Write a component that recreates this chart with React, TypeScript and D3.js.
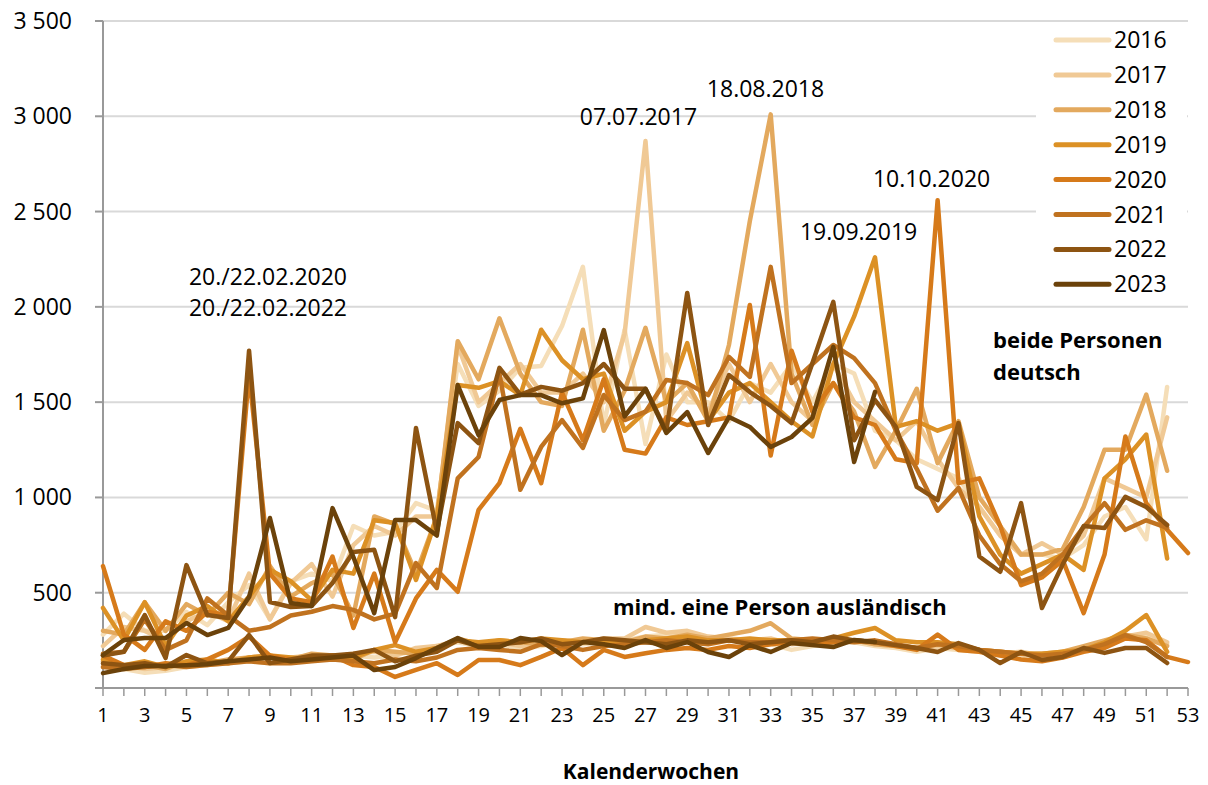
import React, { useEffect, useRef } from "react";
import * as d3 from "d3";

// Eheschließungen je Kalenderwoche
const years = ["2016", "2017", "2018", "2019", "2020", "2021", "2022", "2023"];
const yearColors = ["#F5DEB8", "#F0C995", "#E3A95E", "#DC9125", "#D67A1A", "#C0721F", "#8D5412", "#6B420A"];

// beide Personen deutsch
const german2016 = [280, 390, 300, 300, 400, 330, 450, 540, 360, 560, 600, 560, 850, 800, 820, 970, 930, 1700, 1480, 1560, 1680, 1690, 1900, 2210, 1380, 1880, 1280, 1750, 1500, 1500, 1400, 1600, 1550, 1700, 1500, 1700, 1650, 1350, 1300, 1200, 1150, 1100, 950, 800, 700, 700, 680, 750, 900, 950, 780, 1580];
const german2017 = [220, 320, 300, 250, 350, 400, 350, 600, 360, 550, 650, 480, 750, 850, 800, 900, 900, 1800, 1500, 1600, 1700, 1550, 1550, 1650, 1500, 1860, 2870, 1400, 1550, 1450, 1700, 1500, 1700, 1500, 1400, 1700, 1500, 1400, 1300, 1400, 1200, 1050, 950, 800, 700, 760, 700, 800, 1100, 1050, 1000, 1420];
const german2018 = [300, 280, 450, 300, 440, 380, 500, 440, 640, 480, 550, 600, 380, 900, 860, 600, 900, 1820, 1620, 1940, 1650, 1500, 1480, 1880, 1350, 1560, 1890, 1500, 1600, 1400, 1800, 2450, 3010, 1650, 1380, 1600, 1450, 1160, 1350, 1570, 1180, 1400, 1000, 850, 700, 700, 730, 950, 1250, 1250, 1540, 1140];
const german2019 = [420, 250, 450, 220, 380, 430, 350, 480, 620, 560, 460, 620, 600, 880, 866, 567, 900, 1590, 1575, 1610, 1537, 1880, 1720, 1620, 1650, 1350, 1450, 1500, 1810, 1400, 1550, 1600, 1500, 1400, 1320, 1700, 1950, 2260, 1370, 1400, 1350, 1390, 900, 700, 600, 650, 700, 620, 1100, 1200, 1330, 680];
const german2020 = [640, 280, 200, 350, 300, 400, 380, 1650, 600, 470, 450, 690, 315, 600, 240, 470, 620, 505, 935, 1075, 1360, 1075, 1550, 1300, 1620, 1250, 1230, 1420, 1380, 1400, 1420, 2010, 1220, 1770, 1450, 1600, 1420, 1380, 1200, 1180, 2560, 1075, 1100, 850, 540, 580, 670, 393, 700, 1320, 970, 830, 708];
const german2021 = [180, 190, 360, 200, 250, 470, 380, 300, 320, 380, 400, 430, 410, 360, 390, 655, 525, 1100, 1212, 1650, 1040, 1265, 1406, 1260, 1537, 1406, 1450, 1616, 1600, 1537, 1737, 1632, 2210, 1600, 1700, 1800, 1731, 1600, 1350, 1150, 930, 1050, 800, 650, 560, 600, 700, 845, 970, 830, 880, 840];
const german2022 = [170, 190, 383, 157, 645, 383, 367, 1770, 451, 425, 430, 551, 714, 725, 372, 1364, 820, 1390, 1285, 1680, 1540, 1580, 1560, 1600, 1700, 1570, 1570, 1350, 2073, 1380, 1642, 1553, 1480, 1390, 1705, 2026, 1300, 1511, 1370, 1055, 986, 1390, 690, 610, 970, 420, 650, 850, 840, 1003, 950, 855];
const german2023 = [173, 252, 262, 262, 341, 278, 315, 477, 892, 446, 430, 944, 687, 393, 881, 881, 800, 1590, 1327, 1511, 1537, 1537, 1494, 1520, 1878, 1425, 1570, 1338, 1448, 1233, 1422, 1370, 1265, 1317, 1417, 1790, 1186, 1554];

// mind. eine Person ausländisch
const foreign2016 = [130, 100, 80, 90, 110, 120, 130, 140, 130, 150, 160, 150, 170, 160, 170, 200, 220, 240, 220, 230, 210, 220, 240, 230, 240, 250, 270, 280, 290, 260, 250, 240, 230, 200, 220, 240, 240, 220, 210, 190, 210, 200, 190, 170, 170, 160, 180, 200, 230, 260, 270, 230];
const foreign2017 = [110, 120, 100, 110, 130, 120, 140, 150, 160, 160, 170, 160, 180, 190, 170, 210, 220, 250, 230, 240, 220, 230, 250, 240, 260, 260, 320, 290, 300, 270, 260, 250, 260, 230, 240, 250, 250, 230, 220, 200, 220, 210, 200, 180, 190, 170, 190, 210, 240, 270, 290, 240];
const foreign2018 = [140, 110, 120, 100, 140, 130, 150, 160, 170, 150, 180, 170, 150, 200, 190, 180, 210, 260, 230, 250, 240, 230, 240, 260, 250, 240, 270, 260, 280, 260, 280, 300, 340, 260, 250, 240, 250, 230, 220, 210, 230, 210, 200, 190, 180, 180, 190, 220, 250, 280, 260, 220];
const foreign2019 = [150, 120, 140, 110, 140, 150, 130, 160, 170, 160, 150, 170, 160, 200, 225, 190, 210, 250, 240, 250, 240, 260, 250, 240, 250, 230, 250, 260, 270, 250, 250, 260, 250, 250, 240, 260, 290, 315, 250, 240, 240, 230, 200, 190, 180, 180, 190, 200, 240, 300, 383, 190];
const foreign2020 = [170, 120, 110, 130, 120, 150, 200, 270, 170, 150, 160, 170, 120, 110, 58, 95, 130, 68, 147, 147, 120, 163, 210, 120, 200, 163, 182, 200, 210, 200, 220, 210, 230, 240, 230, 240, 250, 240, 220, 200, 280, 200, 190, 170, 150, 140, 160, 190, 210, 260, 250, 163, 136];
const foreign2021 = [110, 100, 110, 120, 110, 120, 130, 140, 130, 130, 140, 150, 140, 130, 150, 140, 160, 200, 210, 200, 190, 230, 220, 200, 220, 230, 240, 250, 240, 230, 250, 240, 240, 250, 260, 250, 240, 250, 230, 210, 230, 220, 200, 190, 180, 170, 180, 200, 230, 278, 241, 163];
const foreign2022 = [130, 120, 130, 110, 173, 130, 140, 278, 131, 150, 170, 170, 180, 200, 140, 170, 190, 250, 220, 230, 240, 260, 230, 240, 260, 250, 240, 230, 250, 240, 250, 230, 240, 250, 240, 270, 250, 240, 225, 210, 189, 236, 200, 131, 189, 147, 163, 210, 184, 210, 210, 131];
const foreign2023 = [78, 100, 115, 115, 120, 125, 140, 150, 160, 140, 150, 160, 170, 94, 110, 157, 210, 262, 215, 215, 262, 246, 173, 241, 230, 210, 252, 210, 241, 189, 163, 225, 189, 236, 225, 215, 252, 241];

const germanSeries = [german2016, german2017, german2018, german2019, german2020, german2021, german2022, german2023];
const foreignSeries = [foreign2016, foreign2017, foreign2018, foreign2019, foreign2020, foreign2021, foreign2022, foreign2023];

const weekTicks = d3.range(1, 54);
const weekLabels = d3.range(1, 54, 2);
const yTicks = [500, 1000, 1500, 2000, 2500, 3000, 3500];

// text anchored at (week, value) of its left baseline
const annotations = [
  { text: "20./22.02.2020", week: 5.12, value: 2115 },
  { text: "20./22.02.2022", week: 5.12, value: 1950 },
  { text: "07.07.2017", week: 23.85, value: 2954 },
  { text: "18.08.2018", week: 29.94, value: 3101 },
  { text: "19.09.2019", week: 34.4, value: 2351 },
  { text: "10.10.2020", week: 37.9, value: 2629 },
];

const FONT = "'Open Sans', 'Noto Sans', sans-serif";

const App = () => {
  const ref = useRef<SVGSVGElement | null>(null);

  useEffect(() => {
    const width = 1208;
    const height = 785;
    const svg = d3.select(ref.current);
    svg.selectAll("*").remove();
    svg.attr("width", width).attr("height", height);

    const x = d3.scaleLinear().domain([1, 53]).range([103, 1188]);
    const y = d3.scaleLinear().domain([0, 3500]).range([688, 21]);
    const fmt = d3.formatLocale({ decimal: ",", thousands: " ", grouping: [3], currency: ["", ""] }).format(",");

    // gridlines
    svg.append("g")
      .selectAll("line")
      .data(yTicks)
      .join("line")
      .attr("x1", x(1))
      .attr("x2", x(53))
      .attr("y1", (d) => y(d))
      .attr("y2", (d) => y(d))
      .attr("stroke", "#D9D9D9")
      .attr("stroke-width", 2);

    // y axis
    svg.append("line")
      .attr("x1", x(1)).attr("x2", x(1))
      .attr("y1", y(3500)).attr("y2", y(0))
      .attr("stroke", "#999").attr("stroke-width", 2);
    svg.append("g")
      .selectAll("line")
      .data([0, ...yTicks])
      .join("line")
      .attr("x1", x(1) - 8).attr("x2", x(1))
      .attr("y1", (d) => y(d)).attr("y2", (d) => y(d))
      .attr("stroke", "#999").attr("stroke-width", 2);
    svg.append("g")
      .selectAll("text")
      .data(yTicks)
      .join("text")
      .attr("x", 72)
      .attr("y", (d) => y(d) + 8)
      .attr("text-anchor", "end")
      .attr("font-family", FONT)
      .attr("font-size", 23)
      .attr("fill", "#000")
      .text((d) => fmt(d));

    // x axis
    svg.append("line")
      .attr("x1", x(1)).attr("x2", x(53))
      .attr("y1", y(0)).attr("y2", y(0))
      .attr("stroke", "#999").attr("stroke-width", 2);
    svg.append("g")
      .selectAll("line")
      .data(weekTicks)
      .join("line")
      .attr("x1", (d) => x(d)).attr("x2", (d) => x(d))
      .attr("y1", y(0)).attr("y2", y(0) + 8)
      .attr("stroke", "#999").attr("stroke-width", 1.5);
    svg.append("g")
      .selectAll("text")
      .data(weekLabels)
      .join("text")
      .attr("x", (d) => x(d))
      .attr("y", 722)
      .attr("text-anchor", "middle")
      .attr("font-family", FONT)
      .attr("font-size", 20)
      .attr("fill", "#000")
      .text((d) => d);
    svg.append("text")
      .attr("x", 651)
      .attr("y", 779)
      .attr("text-anchor", "middle")
      .attr("font-family", FONT)
      .attr("font-size", 21)
      .attr("font-weight", "bold")
      .attr("fill", "#000")
      .text("Kalenderwochen");

    // series
    const line = d3.line<number>()
      .x((_, i) => x(i + 1))
      .y((d) => y(d));
    const lines = svg.append("g");
    years.forEach((yr, i) => {
      [foreignSeries[i], germanSeries[i]].forEach((values) => {
        lines.append("path")
          .attr("d", line(values))
          .attr("fill", "none")
          .attr("stroke", yearColors[i])
          .attr("stroke-width", 4.5)
          .attr("stroke-linejoin", "round")
          .attr("stroke-linecap", "round");
      });
    });

    // annotations
    svg.append("g")
      .selectAll("text")
      .data(annotations)
      .join("text")
      .attr("x", (d) => x(d.week))
      .attr("y", (d) => y(d.value))
      .attr("font-family", FONT)
      .attr("font-size", 23)
      .attr("fill", "#000")
      .text((d) => d.text);

    const labelGroup = svg.append("g")
      .attr("font-family", FONT)
      .attr("font-size", 22)
      .attr("font-weight", "bold")
      .attr("fill", "#000");
    labelGroup.append("text").attr("x", 993).attr("y", 348).text("beide Personen");
    labelGroup.append("text").attr("x", 993).attr("y", 380).text("deutsch");
    labelGroup.append("text").attr("x", 613).attr("y", 615).text("mind. eine Person ausländisch");

    // legend
    const legend = svg.append("g");
    legend.append("rect")
      .attr("x", 1036).attr("y", 24)
      .attr("width", 151).attr("height", 278)
      .attr("fill", "#fff");
    years.forEach((yr, i) => {
      const ly = 40 + i * 34.9;
      legend.append("line")
        .attr("x1", 1056).attr("x2", 1109)
        .attr("y1", ly).attr("y2", ly)
        .attr("stroke", yearColors[i])
        .attr("stroke-width", 5)
        .attr("stroke-linecap", "round");
      legend.append("text")
        .attr("x", 1114).attr("y", ly + 8)
        .attr("font-family", FONT)
        .attr("font-size", 23)
        .attr("fill", "#000")
        .text(yr);
    });
  }, []);

  return (
    <div style={{ position: "absolute", left: 0, top: 0, background: "#fff" }}>
      <svg ref={ref} style={{ display: "block" }}></svg>
    </div>
  );
};

export default App;
